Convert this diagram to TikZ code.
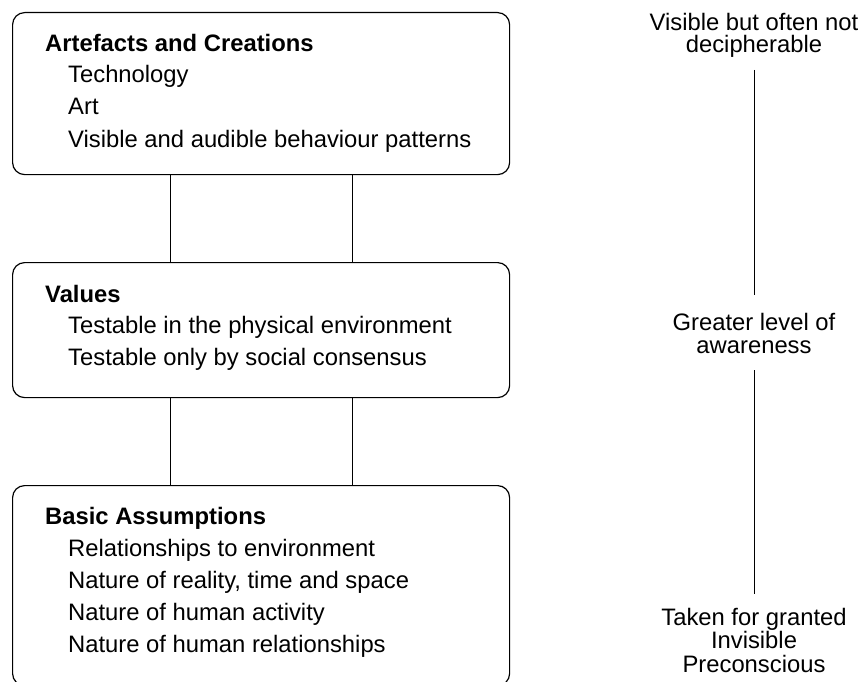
\documentclass[tikz,border=0pt]{standalone}
\usepackage{fontspec}
\setmainfont{Liberation Sans}
\begin{document}
\begin{tikzpicture}[x=1pt,y=-1pt,
  layerbox/.style={draw=black, line width=1.2pt, rounded corners=12pt, minimum width=497pt, inner sep=0pt, anchor=north west},
  txt/.style={inner sep=0pt, anchor=base west, font=\fontsize{23.8}{28}\selectfont},
  ttl/.style={txt, font=\fontsize{23.8}{28}\selectfont\bfseries},
  side/.style={inner sep=0pt, anchor=base, font=\fontsize{23.8}{28}\selectfont},
  link/.style={draw=black, line width=0.9pt}]
\clip (0,0) rectangle (864,682);
\useasboundingbox (0,0) rectangle (864,682);
% boxes
\node[layerbox, minimum height=162pt] (b1) at (12,12) {};
\node[layerbox, minimum height=135pt] (b2) at (12,262) {};
\node[layerbox, minimum height=200pt] (b3) at (12,485) {};
% box 1 text
\node[ttl] (b1t) at (45,52) {Artefacts and Creations};
\node[txt] (b1a) at (68,83) {Technology};
\node[txt] (b1b) at (68,115) {Art};
\node[txt] (b1c) at (68,147) {Visible and audible behaviour patterns};
% box 2 text
\node[ttl] (b2t) at (45,302) {Values};
\node[txt] (b2a) at (68,333) {Testable in the physical environment};
\node[txt] (b2b) at (68,365) {Testable only by social consensus};
% box 3 text
\node[ttl] (b3t) at (45,524) {Basic Assumptions};
\node[txt] (b3a) at (68,556) {Relationships to environment};
\node[txt] (b3b) at (68,588) {Nature of reality, time and space};
\node[txt] (b3c) at (68,620) {Nature of human activity};
\node[txt] (b3d) at (68,652) {Nature of human relationships};
% connectors between boxes
\draw[link] ([xshift=-90.5pt]b1.south) -- ([xshift=-90.5pt]b2.north);
\draw[link] ([xshift=91.5pt]b1.south) -- ([xshift=91.5pt]b2.north);
\draw[link] ([xshift=-90.5pt]b2.south) -- ([xshift=-90.5pt]b3.north);
\draw[link] ([xshift=91.5pt]b2.south) -- ([xshift=91.5pt]b3.north);
% side labels
\node[side] (s1a) at (754,31) {Visible but often not};
\node[side] (s1b) at (754,53) {decipherable};
\node[side] (s2a) at (754,330) {Greater level of};
\node[side] (s2b) at (754,353) {awareness};
\node[side] (s3a) at (754,625) {Taken for granted};
\node[side] (s3b) at (754,648) {Invisible};
\node[side] (s3c) at (754,672) {Preconscious};
\coordinate (l1a) at (754,70);
\coordinate (l1b) at (754,295);
\coordinate (l2a) at (754,370);
\coordinate (l2b) at (754,594);
\draw[link] (l1a) -- (l1b);
\draw[link] (l2a) -- (l2b);
\end{tikzpicture}
\end{document}
